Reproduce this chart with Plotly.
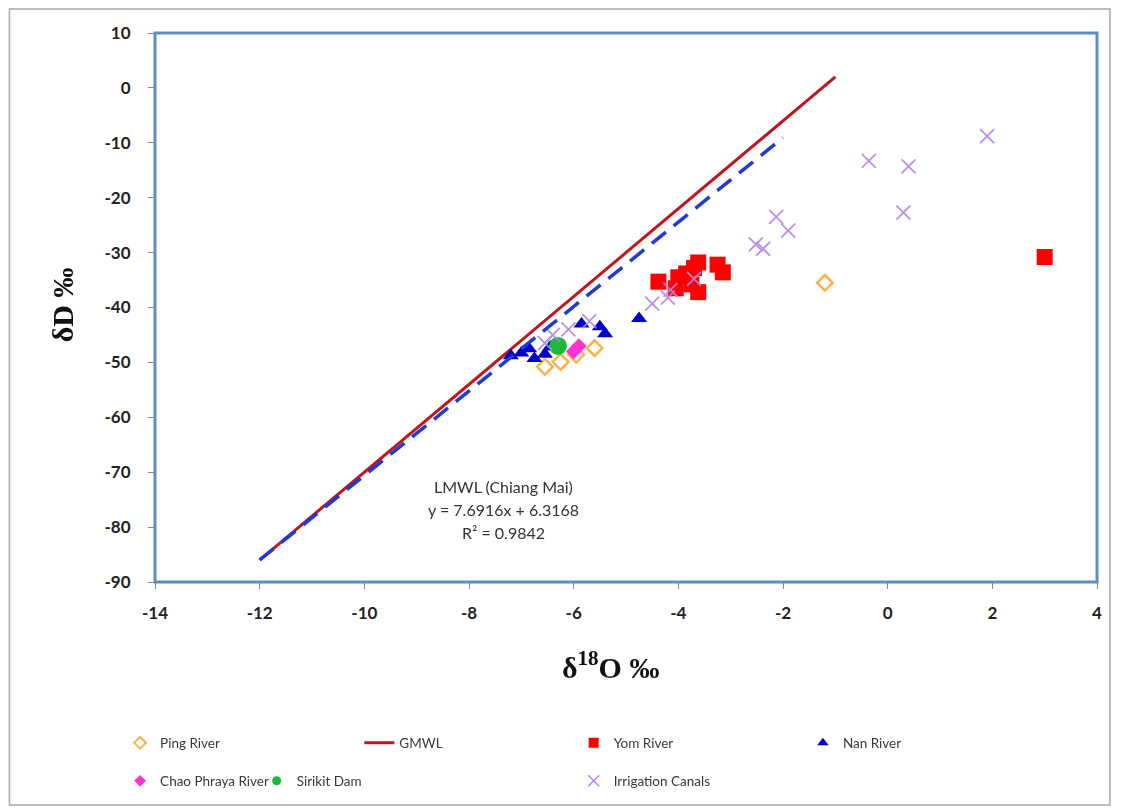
import plotly.graph_objects as go

# ---------------- data ----------------
ping_x = [-6.55, -6.25, -5.95, -5.6, -1.2]
ping_y = [-50.8, -49.9, -48.6, -47.4, -35.5]

gmwl_x = [-12, -1]
gmwl_y = [-86, 2]

yom_x = [-4.38, -4.0, -4.05, -3.85, -3.7, -3.62, -3.75, -3.62, -3.25, -3.15, 3.0]
yom_y = [-35.3, -34.5, -36.5, -33.8, -32.8, -31.8, -35.8, -37.2, -32.2, -33.6, -30.8]

nan_x = [-7.2, -7.0, -6.85, -6.75, -6.55, -6.45, -5.85, -5.5, -5.4, -4.75]
nan_y = [-48.8, -48.3, -47.5, -49.3, -48.5, -47.2, -43.0, -43.5, -44.8, -42.0]

chao_x = [-6.0, -5.9]
chao_y = [-48.0, -47.0]

sirikit_x = [-6.3]
sirikit_y = [-47.0]

irr_x = [1.9, -0.36, 0.4, 0.3, -2.13, -1.9, -2.52, -2.38, -3.7, -4.15, -4.2, -4.5, -5.7, -6.1, -6.4, -6.55]
irr_y = [-8.8, -13.3, -14.3, -22.7, -23.5, -26.0, -28.5, -29.3, -34.8, -36.8, -38.2, -39.3, -42.5, -44.0, -45.0, -46.5]

lmwl_slope = 7.6916
lmwl_intercept = 6.3168
lmwl_r2 = 0.9842
lmwl_x = [-12, -2]
lmwl_y = [lmwl_slope * v + lmwl_intercept for v in lmwl_x]

x_ticks = [-14, -12, -10, -8, -6, -4, -2, 0, 2, 4]
y_ticks = [10, 0, -10, -20, -30, -40, -50, -60, -70, -80, -90]
x_ticktext = [str(v) for v in x_ticks]
y_ticktext = [str(v) for v in y_ticks]

eq_lines = [
    "LMWL (Chiang Mai)",
    f"y = {lmwl_slope}x + {lmwl_intercept}",
    f"R² = {lmwl_r2}",
]

# ---------------- figure ----------------
OFF = 8  # page body margin
W, H = 1106, 802
L, T = 155 - OFF, 33 - OFF
R = W - (1100 - OFF)
B = H - (582 - OFF)
PW = W - L - R
PH = H - T - B


def px2paper_x(px):
    return (px - OFF - L) / PW


def py2paper_y(py):
    return (H - B - (py - OFF)) / PH


fig = go.Figure()

fig.add_trace(go.Scatter(x=ping_x, y=ping_y, mode="markers", name="Ping River",
                         marker=dict(symbol="diamond-open", size=12, color="#F9B24E",
                                     line=dict(width=2.5, color="#F9B24E")),
                         showlegend=False))
fig.add_trace(go.Scatter(x=gmwl_x, y=gmwl_y, mode="lines", name="GMWL",
                         line=dict(color="#C0151B", width=3), legend="legend2"))
fig.add_trace(go.Scatter(x=yom_x, y=yom_y, mode="markers", name="Yom River",
                         marker=dict(symbol="square", size=16, color="#FF0000"),
                         showlegend=False))
fig.add_trace(go.Scatter(x=nan_x, y=nan_y, mode="markers", name="Nan River",
                         marker=dict(symbol="triangle-up", size=14, color="#0000CC"),
                         showlegend=False))
fig.add_trace(go.Scatter(x=chao_x, y=chao_y, mode="markers", name="Chao Phraya River",
                         marker=dict(symbol="diamond", size=12, color="#FF33CC"),
                         showlegend=False))
fig.add_trace(go.Scatter(x=sirikit_x, y=sirikit_y, mode="markers", name="Sirikit Dam",
                         marker=dict(symbol="circle", size=18, color="#1DB83A"),
                         showlegend=False))
fig.add_trace(go.Scatter(x=irr_x, y=irr_y, mode="markers", name="Irrigation Canals",
                         marker=dict(symbol="x-thin-open", size=14, color="#B384E6",
                                     line=dict(width=1.8, color="#B384E6")),
                         opacity=0.9, showlegend=False))
fig.add_trace(go.Scatter(x=lmwl_x, y=lmwl_y, mode="lines", name="LMWL",
                         line=dict(color="#1F3AD6", width=3.5, dash="18px,10px"),
                         showlegend=False))

legend_entries = [
    ("Ping River", "legend", dict(symbol="diamond-open", size=9, color="#F9B24E",
                                  line=dict(width=2, color="#F9B24E"))),
    ("Yom River", "legend3", dict(symbol="square", size=10, color="#FF0000")),
    ("Nan River", "legend4", dict(symbol="triangle-up", size=10, color="#0000CC")),
    ("Chao Phraya River", "legend5", dict(symbol="diamond", size=9, color="#FF33CC")),
    ("Sirikit Dam", "legend6", dict(symbol="circle", size=9, color="#1DB83A")),
    ("Irrigation Canals", "legend7", dict(symbol="x-thin-open", size=11, color="#B384E6",
                                          line=dict(width=1.5, color="#B384E6"))),
]
for name, leg, mk in legend_entries:
    fig.add_trace(go.Scatter(x=[None], y=[None], mode="markers", name=name,
                             marker=mk, legend=leg, hoverinfo="skip"))

legend_font = dict(family="Lato, Open Sans, sans-serif", size=13.5, color="#383838")
row1 = py2paper_y(743)
row2 = py2paper_y(781)
legend_pos = {
    "legend": (115, row1),
    "legend2": (355, row1),
    "legend3": (570, row1),
    "legend4": (800, row1),
    "legend5": (115, row2),
    "legend6": (252, row2),
    "legend7": (570, row2),
}
legend_layout = {}
for key, (lx, ly) in legend_pos.items():
    legend_layout[key] = dict(x=px2paper_x(lx + 5), y=ly, xanchor="left", yanchor="middle",
                              bgcolor="rgba(0,0,0,0)", font=legend_font,
                              orientation="h")

tick_font = dict(family="Lato, Open Sans, sans-serif", size=17, color="#222222",
                 weight="bold")
title_font = dict(family="Liberation Serif, serif", size=30, color="#111111",
                  weight="bold")

annotations = [
    dict(x=px2paper_x(612), y=py2paper_y(665), xref="paper", yref="paper",
         showarrow=False, text="δ<sup>18</sup>O ‰", font=title_font,
         xanchor="center", yanchor="middle"),
    dict(x=px2paper_x(62), y=py2paper_y(305), xref="paper", yref="paper",
         showarrow=False, text="δD ‰", textangle=-90, font=title_font,
         xanchor="center", yanchor="middle"),
]
for i, line in enumerate(eq_lines):
    annotations.append(dict(x=px2paper_x(505), y=py2paper_y(486 + 23 * i),
                            xref="paper", yref="paper", showarrow=False, text=line,
                            font=dict(family="Lato, Open Sans, sans-serif", size=16,
                                      color="#333333"),
                            xanchor="center", yanchor="middle"))

fig.update_layout(
    width=W, height=H,
    margin=dict(l=L, r=R, t=T, b=B),
    paper_bgcolor="white",
    plot_bgcolor="white",
    showlegend=True,
    **legend_layout,
    xaxis=dict(range=[-14, 4], tickvals=x_ticks, ticktext=x_ticktext, ticks="outside",
               ticklen=6, tickcolor="#888888", tickwidth=1, showgrid=False,
               zeroline=False, tickfont=tick_font, showline=False,
               ticklabelstandoff=10, fixedrange=True),
    yaxis=dict(range=[-90, 10], tickvals=y_ticks, ticktext=y_ticktext, ticks="outside",
               ticklen=6, tickcolor="#888888", tickwidth=1, showgrid=False,
               zeroline=False, tickfont=tick_font, showline=False,
               ticklabelstandoff=14, fixedrange=True),
    shapes=[
        dict(type="rect", xref="paper", yref="paper", x0=0, x1=1, y0=0, y1=1,
             line=dict(color="#5F8CC2", width=3), layer="above"),
        dict(type="rect", xref="paper", yref="paper",
             x0=px2paper_x(OFF + 1), x1=px2paper_x(OFF + W - 1),
             y0=py2paper_y(805), y1=py2paper_y(OFF + 1),
             line=dict(color="#A8A8A8", width=1.5), layer="below"),
    ],
    annotations=annotations,
)

fig.write_html("out.html")
